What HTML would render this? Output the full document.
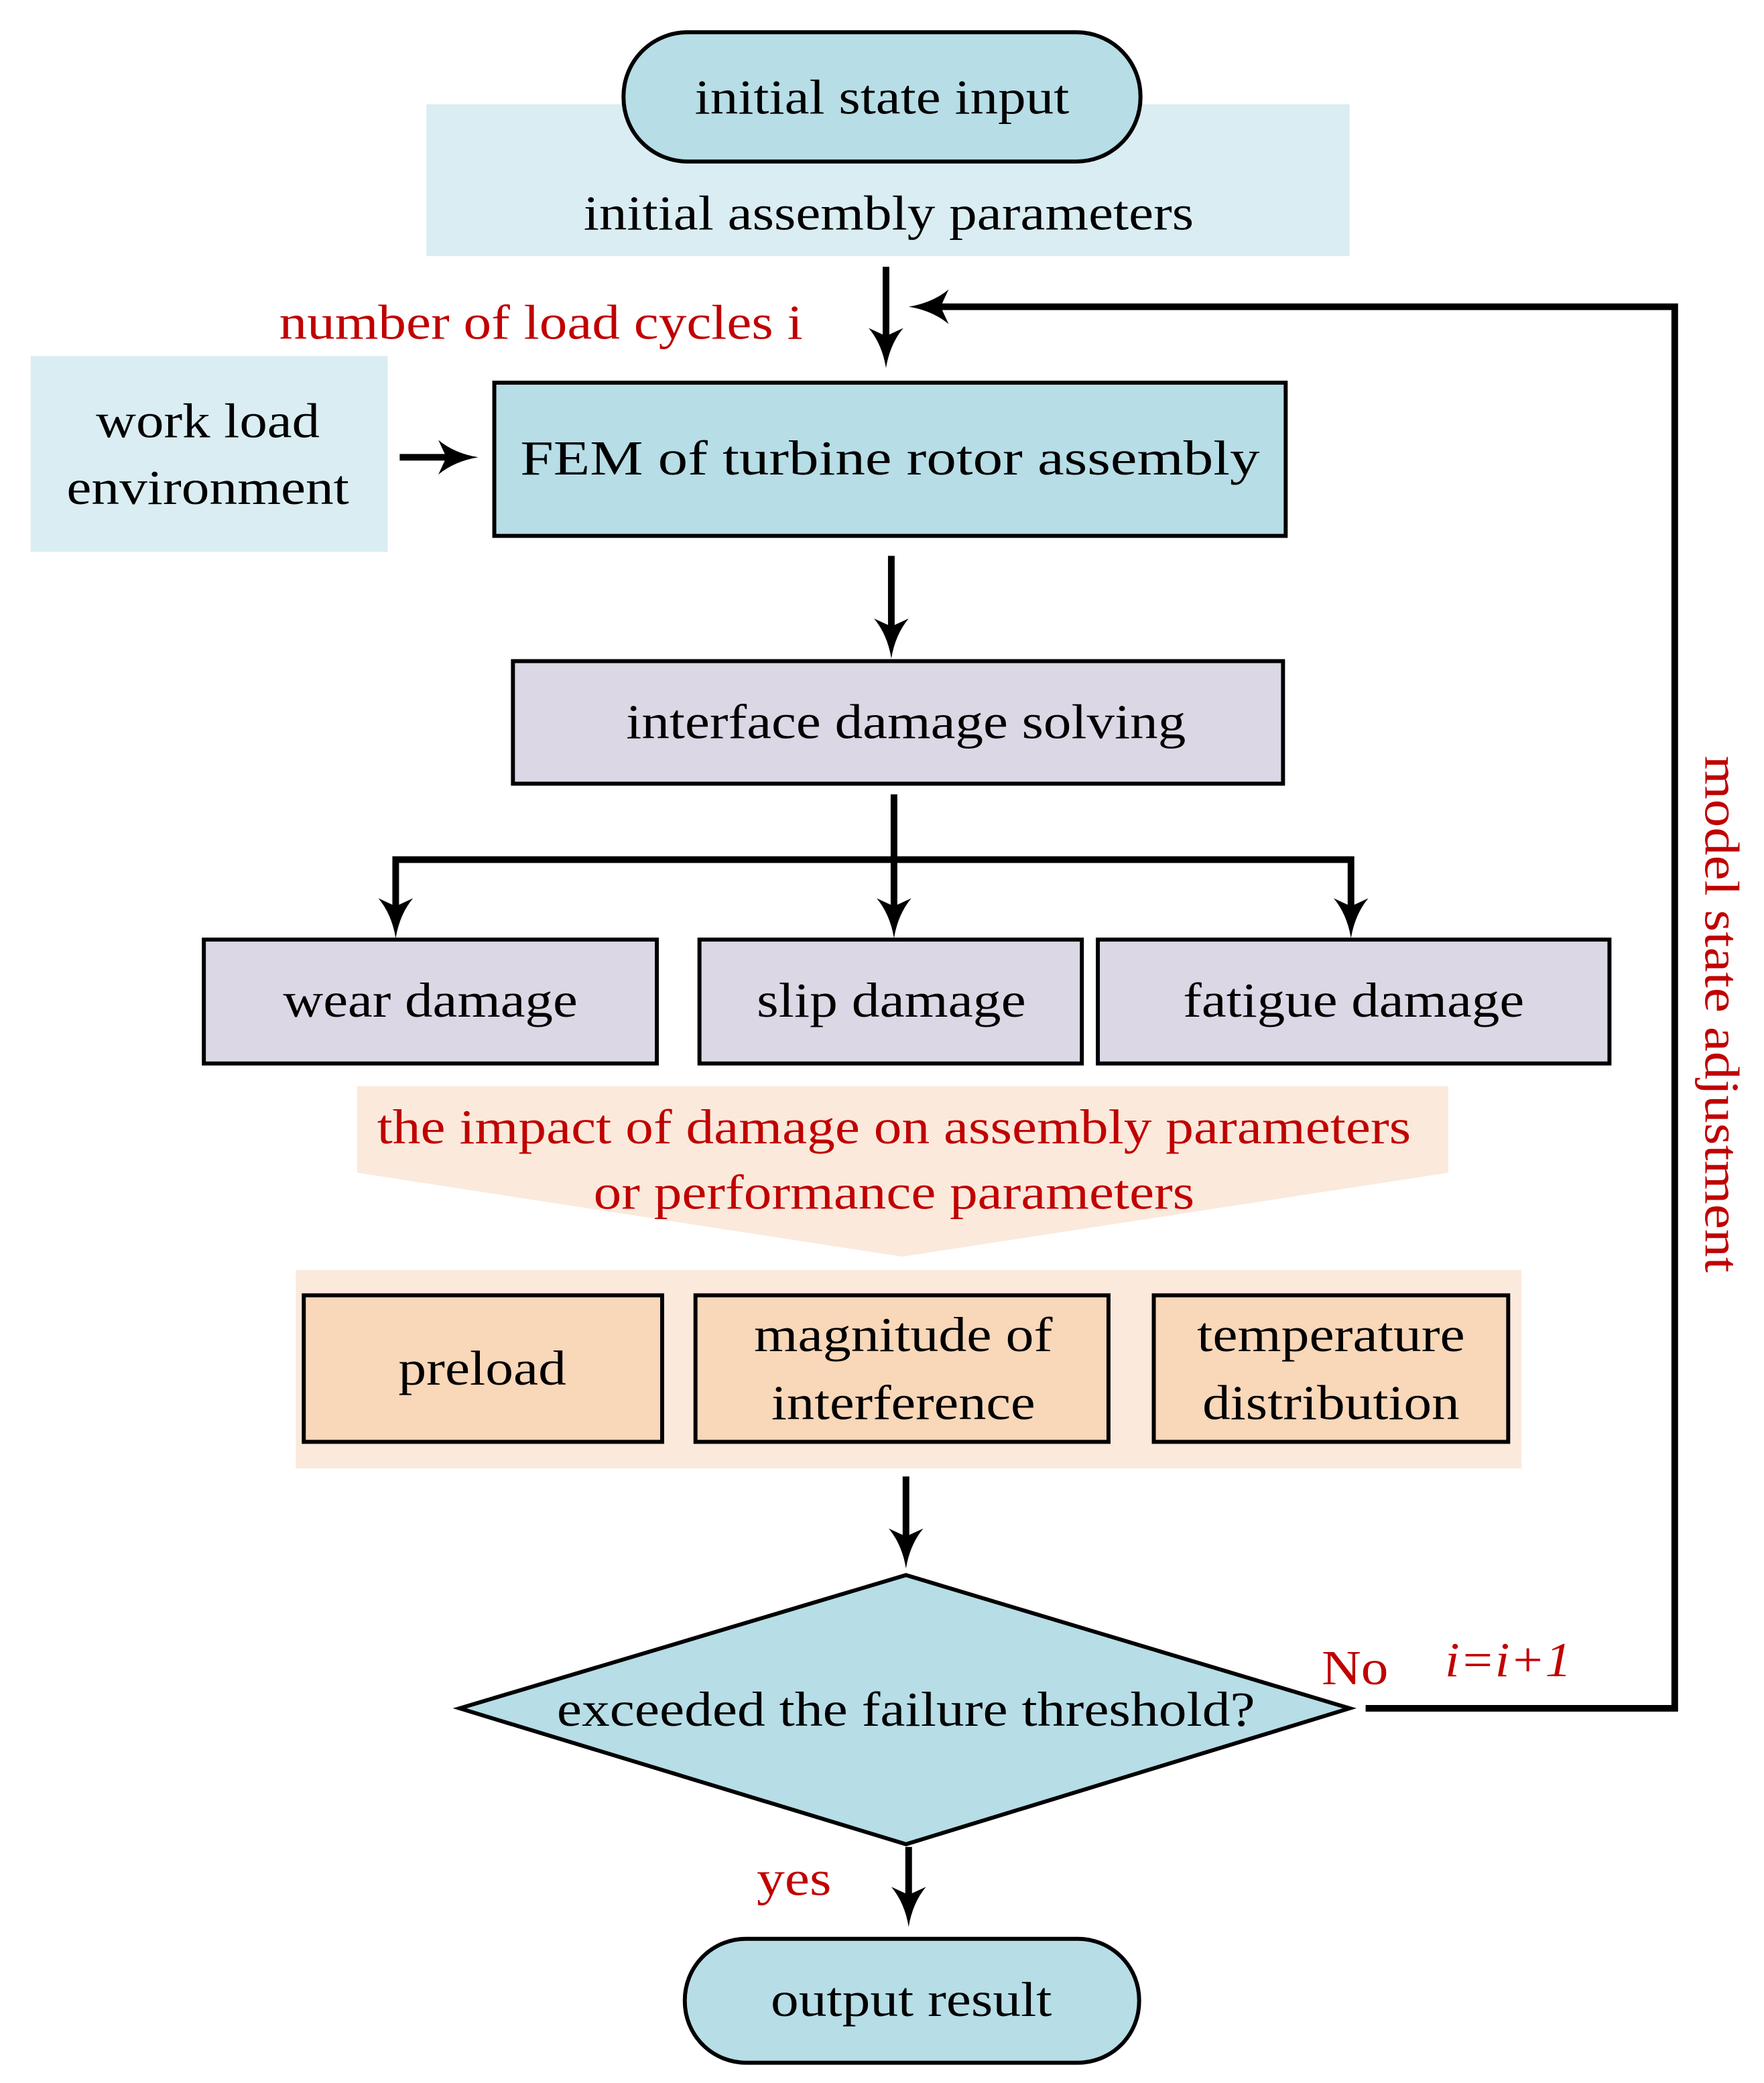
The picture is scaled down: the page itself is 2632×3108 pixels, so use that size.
<!DOCTYPE html>
<html><head><meta charset="utf-8"><style>html,body{margin:0;padding:0;background:#fff}svg{display:block}
text{font-family:"Liberation Serif","Times New Roman",serif;font-size:37px;text-anchor:middle}</style></head>
<body>
<svg width="2632" height="3108" viewBox="0 0 1324 1563" xmlns="http://www.w3.org/2000/svg">
<!-- top -->
<rect x="320" y="78" width="693" height="114" fill="#daedf2"/>
<rect x="468" y="24" width="388" height="97" rx="48" fill="#b7dde6" stroke="#000" stroke-width="3"/>
<text x="662" y="85" textLength="281" lengthAdjust="spacingAndGlyphs">initial state input</text>
<text x="667" y="172" textLength="458" lengthAdjust="spacingAndGlyphs">initial assembly parameters</text>
<line x1="665" y1="200" x2="665" y2="256" stroke="#000" stroke-width="5"/>
<path d="M665,276 Q662,258 652,246 L665,252 L678,246 Q668,258 665,276 Z"/>
<text x="406" y="254" fill="#c00000" textLength="393" lengthAdjust="spacingAndGlyphs">number of load cycles i</text>
<!-- feedback -->
<polyline points="1025,1282 1257,1282 1257,230 700,230" fill="none" stroke="#000" stroke-width="5"/>
<path d="M682,230 Q700,227 712,217 L706,230 L712,243 Q700,233 682,230 Z"/>
<text transform="translate(1280,761) rotate(90)" fill="#c00000" textLength="388" lengthAdjust="spacingAndGlyphs">model state adjustment</text>
<!-- work load -->
<rect x="23" y="267" width="268" height="147" fill="#daedf2"/>
<text x="156" y="328" textLength="168" lengthAdjust="spacingAndGlyphs">work load</text>
<text x="156" y="378" textLength="212" lengthAdjust="spacingAndGlyphs">environment</text>
<line x1="300" y1="343" x2="342" y2="343" stroke="#000" stroke-width="5"/>
<path d="M359,343 Q341,340 329,330 L335,343 L329,356 Q341,346 359,343 Z"/>
<rect x="371" y="287" width="594" height="115" fill="#b7dde6" stroke="#000" stroke-width="3"/>
<text x="668" y="356" textLength="555" lengthAdjust="spacingAndGlyphs">FEM of turbine rotor assembly</text>
<line x1="669" y1="417" x2="669" y2="474" stroke="#000" stroke-width="5"/>
<path d="M669,494 Q666,476 656,464 L669,470 L682,464 Q672,476 669,494 Z"/>
<rect x="385" y="496" width="578" height="92" fill="#dcd7e4" stroke="#000" stroke-width="3"/>
<text x="680" y="554" textLength="420" lengthAdjust="spacingAndGlyphs">interface damage solving</text>
<!-- branch -->
<line x1="671" y1="596" x2="671" y2="684" stroke="#000" stroke-width="5"/>
<polyline points="297,684 297,645 1014,645 1014,684" fill="none" stroke="#000" stroke-width="5"/>
<path d="M671,704 Q668,686 658,674 L671,680 L684,674 Q674,686 671,704 Z"/>
<path d="M297,704 Q294,686 284,674 L297,680 L310,674 Q300,686 297,704 Z"/>
<path d="M1014,704 Q1011,686 1001,674 L1014,680 L1027,674 Q1017,686 1014,704 Z"/>
<rect x="153" y="705" width="340" height="93" fill="#dcd7e4" stroke="#000" stroke-width="3"/>
<rect x="525" y="705" width="287" height="93" fill="#dcd7e4" stroke="#000" stroke-width="3"/>
<rect x="824" y="705" width="384" height="93" fill="#dcd7e4" stroke="#000" stroke-width="3"/>
<text x="323" y="763" textLength="221" lengthAdjust="spacingAndGlyphs">wear damage</text>
<text x="669" y="763" textLength="202" lengthAdjust="spacingAndGlyphs">slip damage</text>
<text x="1016" y="763" textLength="256" lengthAdjust="spacingAndGlyphs">fatigue damage</text>
<!-- impact -->
<polygon points="268,815 1087,815 1087,880 677,943 268,880" fill="#fbe9dc"/>
<text x="671" y="858" fill="#c00000" textLength="776" lengthAdjust="spacingAndGlyphs">the impact of damage on assembly parameters</text>
<text x="671" y="907" fill="#c00000" textLength="451" lengthAdjust="spacingAndGlyphs">or performance parameters</text>
<rect x="222" y="953" width="920" height="149" fill="#fbe9dc"/>
<rect x="228" y="972" width="269" height="110" fill="#f9d7b9" stroke="#000" stroke-width="3"/>
<rect x="522" y="972" width="310" height="110" fill="#f9d7b9" stroke="#000" stroke-width="3"/>
<rect x="866" y="972" width="266" height="110" fill="#f9d7b9" stroke="#000" stroke-width="3"/>
<text x="362" y="1039" textLength="126" lengthAdjust="spacingAndGlyphs">preload</text>
<text x="678" y="1014" textLength="224" lengthAdjust="spacingAndGlyphs">magnitude of</text>
<text x="678" y="1065" textLength="198" lengthAdjust="spacingAndGlyphs">interference</text>
<text x="999" y="1014" textLength="201" lengthAdjust="spacingAndGlyphs">temperature</text>
<text x="999" y="1065" textLength="193" lengthAdjust="spacingAndGlyphs">distribution</text>
<line x1="680" y1="1108" x2="680" y2="1158" stroke="#000" stroke-width="5"/>
<path d="M680,1177 Q677,1159 667,1147 L680,1153 L693,1147 Q683,1159 680,1177 Z"/>
<!-- diamond -->
<polygon points="345,1282 680,1182 1013,1282 680,1384" fill="#b7dde6" stroke="#000" stroke-width="3"/>
<text x="680" y="1295" textLength="524" lengthAdjust="spacingAndGlyphs">exceeded the failure threshold?</text>
<text x="1017" y="1264" fill="#c00000" textLength="50" lengthAdjust="spacingAndGlyphs">No</text>
<text x="1132" y="1258" fill="#c00000" font-style="italic" textLength="95" lengthAdjust="spacingAndGlyphs">i=i+1</text>
<line x1="682" y1="1386" x2="682" y2="1426" stroke="#000" stroke-width="5"/>
<path d="M682,1446 Q679,1428 669,1416 L682,1422 L695,1416 Q685,1428 682,1446 Z"/>
<text x="596" y="1422" fill="#c00000" textLength="56" lengthAdjust="spacingAndGlyphs">yes</text>
<rect x="514" y="1455" width="341" height="93" rx="46" fill="#b7dde6" stroke="#000" stroke-width="3"/>
<text x="684" y="1513" textLength="211" lengthAdjust="spacingAndGlyphs">output result</text>
</svg>
</body></html>
